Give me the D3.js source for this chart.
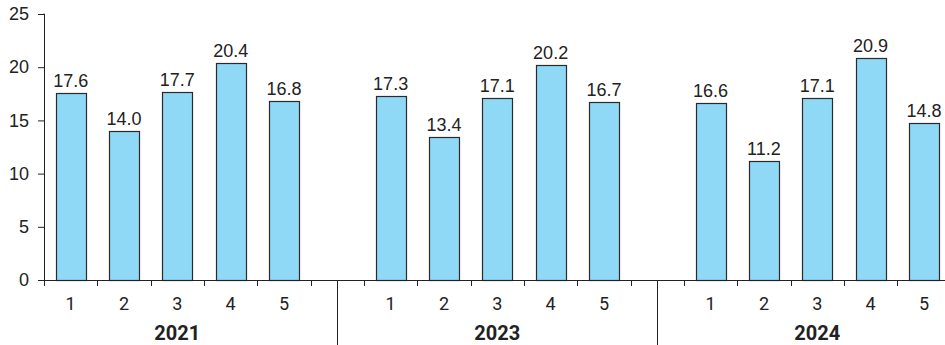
<!DOCTYPE html>
<html><head><meta charset="utf-8">
<script src="https://cdn.jsdelivr.net/npm/d3@7"></script>
<style>body{margin:0;background:#fff}svg{display:block}</style>
</head><body>
<svg id="c" width="945" height="345"></svg>
<script>
const years = ["2021", "2023", "2024"];
const periods = ["1", "2", "3", "4", "5"];
const values2021 = [17.6, 14.0, 17.7, 20.4, 16.8];
const values2023 = [17.3, 13.4, 17.1, 20.2, 16.7];
const values2024 = [16.6, 11.2, 17.1, 20.9, 14.8];
const yTicks = [0, 5, 10, 15, 20, 25];

const seriesByYear = {"2021": values2021, "2023": values2023, "2024": values2024};

// build slots: 5 periods + 1 gap per year
const slots = [];
const data = [];
years.forEach((y, yi) => {
  periods.forEach((p, pi) => {
    const key = y + "-" + p;
    slots.push(key);
    data.push({key, year: y, period: p, value: seriesByYear[y][pi]});
  });
  slots.push(y + "-gap");
});

const svg = d3.select("#c");
const left = 44, slotW = 53.33;
const x = d3.scaleBand().domain(slots).range([left, left + slotW * slots.length]).paddingInner(0.44).paddingOuter(0.22);
const xs = d3.scaleBand().domain(slots).range([left, left + slotW * slots.length]).padding(0);
const y = d3.scaleLinear().domain([0, 25]).range([280, 14]);

const numFont = "'Liberation Sans Narrow','Arial Narrow',Arial,sans-serif";

// y axis
const ya = svg.append("g").attr("transform", `translate(${left},0)`)
  .call(d3.axisLeft(y).tickValues(yTicks).tickSize(6).tickPadding(9).tickFormat(d3.format("d")));
ya.select(".domain").attr("stroke", "#222").attr("d", `M-0.5,${y(25)}H0.5V${y(0)}`);
ya.selectAll(".tick line").attr("stroke", "#222");
ya.selectAll(".tick text").attr("font-family", numFont).attr("font-size", 18).attr("fill", "#222");

// bars
svg.append("g").selectAll("rect").data(data).join("rect")
  .attr("x", d => Math.round(x(d.key)) + 0.5)
  .attr("y", d => Math.round(y(d.value)) + 0.5)
  .attr("width", Math.round(x.bandwidth()))
  .attr("height", d => Math.round(y(0)) - Math.round(y(d.value)))
  .attr("fill", "#8fd8f6")
  .attr("stroke", "#2a2a2a")
  .attr("stroke-width", 1.2);

// value labels
svg.append("g").selectAll("text").data(data).join("text")
  .attr("x", d => x(d.key) + x.bandwidth() / 2)
  .attr("y", d => y(d.value) - 6)
  .attr("text-anchor", "middle")
  .attr("font-family", numFont).attr("font-size", 18).attr("fill", "#222")
  .text(d => d3.format(".1f")(d.value));

// x axis line and ticks
const xa = svg.append("g");
xa.append("line").attr("x1", left).attr("x2", 945).attr("y1", 280.5).attr("y2", 280.5).attr("stroke", "#222");
const tickXs = slots.map(s => xs(s)).concat([xs(slots[slots.length - 1]) + xs.bandwidth()]);
xa.selectAll("line.t").data(tickXs).join("line").attr("class", "t")
  .attr("x1", d => Math.round(d) + 0.5).attr("x2", d => Math.round(d) + 0.5)
  .attr("y1", 280).attr("y2", 286).attr("stroke", "#222");

// period labels
xa.selectAll("text.p").data(data).join("text").attr("class", "p")
  .attr("x", d => xs(d.key) + xs.bandwidth() / 2)
  .attr("y", 310)
  .attr("text-anchor", "middle")
  .attr("font-family", "Roboto, 'Open Sans', sans-serif").attr("font-size", 18).attr("fill", "#222")
  .text(d => d.period);

// group separators (middle of gap slots, except last)
const seps = years.slice(0, -1).map(yv => xs(yv + "-gap") + xs.bandwidth() / 2);
xa.selectAll("line.s").data(seps).join("line").attr("class", "s")
  .attr("x1", d => Math.round(d) + 0.5).attr("x2", d => Math.round(d) + 0.5)
  .attr("y1", 280).attr("y2", 345).attr("stroke", "#222");

// year labels
xa.selectAll("text.y").data(years).join("text").attr("class", "y")
  .attr("x", yv => (xs(yv + "-1") + xs(yv + "-5") + xs.bandwidth()) / 2)
  .attr("y", 340)
  .attr("text-anchor", "middle")
  .attr("font-family", "Roboto, 'Open Sans', sans-serif").attr("font-weight", "bold").attr("font-size", 20).attr("fill", "#222")
  .text(yv => yv);
</script>
</body></html>
